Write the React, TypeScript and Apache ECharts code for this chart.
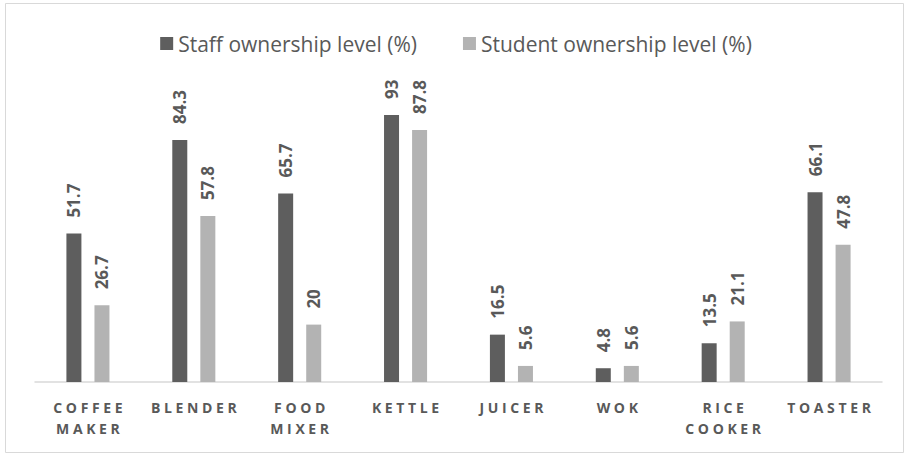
import React, { useEffect, useRef } from "react";
import * as echarts from "echarts";

const categories = ["COFFEE\nMAKER", "BLENDER", "FOOD\nMIXER", "KETTLE", "JUICER", "WOK", "RICE\nCOOKER", "TOASTER"];
const staffValues = [51.7, 84.3, 65.7, 93, 16.5, 4.8, 13.5, 66.1];
const studentValues = [26.7, 57.8, 20, 87.8, 5.6, 5.6, 21.1, 47.8];
const seriesNames = ["Staff ownership level (%)", "Student ownership level (%)"];

const FONT = "Open Sans";
const TEXT = "#595959";

function spaced(s: string): string {
  return s
    .split("\n")
    .map((line) => line.split("").join(" "))
    .join("\n");
}

export default function App() {
  const ref = useRef<HTMLDivElement>(null);
  useEffect(() => {
    if (!ref.current) return;
    const chart = echarts.init(ref.current, undefined, { renderer: "svg" });
    const label = {
      show: true,
      position: "top" as const,
      rotate: 90,
      align: "left" as const,
      verticalAlign: "middle" as const,
      distance: 16,
      fontFamily: FONT,
      fontSize: 17,
      fontWeight: "bold" as const,
      color: TEXT,
    };
    chart.setOption({
      animation: false,
      backgroundColor: "#ffffff",
      textStyle: { fontFamily: FONT },
      graphic: [
        {
          type: "rect",
          shape: { x: 5.5, y: 3.5, width: 898, height: 449 },
          style: { fill: "none", stroke: "#d9d9d9", lineWidth: 1 },
          silent: true,
        },
      ],
      legend: {
        top: 28,
        left: "center",
        itemWidth: 13,
        itemHeight: 13,
        itemGap: 46,
        icon: "rect",
        textStyle: { fontFamily: FONT, fontSize: 21, color: TEXT },
        data: seriesNames,
      },
      grid: { left: 35, right: 30, top: 95, bottom: 74 },
      xAxis: {
        type: "category",
        data: categories.map(spaced),
        axisTick: { show: false },
        axisLine: { lineStyle: { color: "#d9d9d9", width: 1.5 } },
        axisLabel: {
          interval: 0,
          margin: 15,
          fontFamily: FONT,
          fontSize: 14,
          fontWeight: "bold",
          color: TEXT,
          lineHeight: 21,
          verticalAlign: "top",
        },
      },
      yAxis: {
        type: "value",
        min: 0,
        max: 100,
        show: false,
        splitLine: { show: false },
      },
      series: [
        {
          name: seriesNames[0],
          type: "bar",
          data: staffValues,
          barWidth: 15,
          barGap: "87%",
          itemStyle: { color: "#5e5e5e" },
          label,
        },
        {
          name: seriesNames[1],
          type: "bar",
          data: studentValues,
          barWidth: 15,
          barGap: "87%",
          itemStyle: { color: "#b3b3b3" },
          label,
        },
      ],
    });
    return () => chart.dispose();
  }, []);
  return (
    <div
      ref={ref}
      style={{ position: "absolute", left: 0, top: 0, width: 912, height: 456 }}
    />
  );
}
